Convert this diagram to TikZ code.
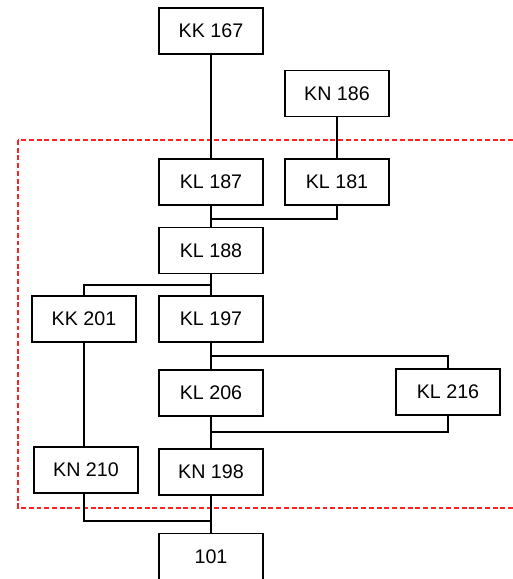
\documentclass[tikz,border=0pt]{standalone}
\usepackage{fontspec}
\setmainfont{Liberation Sans}
\usepackage{xcolor}
\usetikzlibrary{calc}
\definecolor{frame}{HTML}{000000}
\definecolor{zone}{HTML}{FF2020}
\tikzset{
  unit/.style={draw=frame, line width=0.7pt, minimum width=2.08cm, minimum height=0.92cm, inner sep=0pt, font=\fontsize{11.2}{13}\selectfont},
  link/.style={draw=frame, line width=0.7pt},
  area/.style={draw=zone, line width=0.8pt, dash pattern=on 2.8pt off 1.6pt},
}
\begin{document}
\begin{tikzpicture}[x=0.02cm, y=-0.02cm]
  \useasboundingbox (0,0) rectangle (512,579);
  \draw[area] (18,140) rectangle (516,508);
  % units
  \node[unit] (kk201) at (84,319) {KK 201};
  \node[unit] (kk167) at (211,31) {KK 167};
  \node[unit] (kn186) at (337,93.5) {KN 186};
  \node[unit] (kl187) at (211,182) {KL 187};
  \node[unit] (kl181) at (337,182) {KL 181};
  \node[unit] (kl188) at (211,250.5) {KL 188};
  \node[unit] (kl197) at (211,319) {KL 197};
  \node[unit] (kl206) at (211,393) {KL 206};
  \node[unit] (kl216) at (448,392) {KL 216};
  \node[unit] (kn210) at (86,470) {KN 210};
  \node[unit] (kn198) at (211,472) {KN 198};
  \node[unit] (n101) at (211,556.5) {101};
  % joints
  \coordinate (j1) at (211,219);
  \coordinate (j2) at (211,285);
  \coordinate (j3) at (211,356);
  \coordinate (j4) at (211,432);
  \coordinate (j5) at (211,521);
  % links
  \draw[link] (kk167) -- (kl187);
  \draw[link] (kn186) -- (kl181);
  \draw[link] (kl187) -- (kl188);
  \draw[link] (kl181.south) |- (j1);
  \draw[link] (kl188) -- (kl197);
  \draw[link] (j2) -| (kk201.north);
  \draw[link] (kl197) -- (kl206);
  \draw[link] (j3) -| (kl216.north);
  \draw[link] (kl206) -- (kn198);
  \draw[link] (j4) -| (kl216.south);
  \draw[link] (kk201.south) -- (kk201.south |- kn210.north);
  \draw[link] (kn198) -- (n101);
  \draw[link] (kn210.south -| kk201.south) |- (j5);
\end{tikzpicture}
\end{document}
